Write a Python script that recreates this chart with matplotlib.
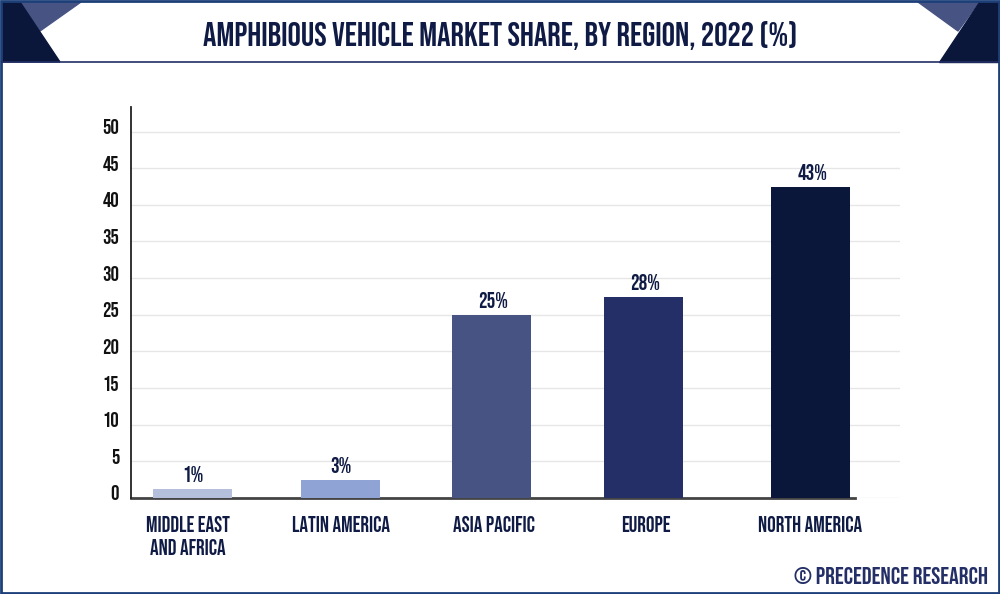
import matplotlib
matplotlib.use("Agg")
import matplotlib.pyplot as plt
from matplotlib.patches import Polygon, Rectangle
from matplotlib.transforms import ScaledTranslation

plt.rcParams["font.family"] = ["Bebas Neue", "Oswald", "Liberation Sans", "DejaVu Sans"]

title = "AMPHIBIOUS VEHICLE MARKET SHARE, BY REGION, 2022 (%)"
source = "© PRECEDENCE RESEARCH"

regions = ["MIDDLE EAST\nAND AFRICA", "LATIN AMERICA", "ASIA PACIFIC", "EUROPE", "NORTH AMERICA"]
shares = [1.2, 2.4, 25.0, 27.4, 42.4]
share_labels = ["1%", "3%", "25%", "28%", "43%"]
y_ticks = [0, 5, 10, 15, 20, 25, 30, 35, 40, 45, 50]

bar_colors = ["#b4bfdc", "#8fa3d4", "#475383", "#232f66", "#0a173b"]
navy = "#0f1b45"
frame = "#1c3f78"

W, H = 1000, 594
fig = plt.figure(figsize=(W / 100, H / 100), dpi=100, facecolor="white")

# chart area, in figure fractions from the pixel layout of the picture
left, right, top, bottom = 131, 900, 107, 498
ax = fig.add_axes([left / W, 1 - bottom / H, (right - left) / W, (bottom - top) / H])
ax.set_xlim(left, right)
ax.set_ylim(0, (bottom - top) / 7.33)

# the columns are not evenly spaced in the picture, and their texts sit a bit off centre
slots = [192, 340, 491, 643, 810]
value_slots = [193, 341, 493, 645, 813]
label_slots = [188, 341, 494, 646, 810]
ax.bar(slots, shares, width=79, color=bar_colors, zorder=3)
for x, v, lab in zip(value_slots, shares, share_labels):
    ax.text(x, v + 0.95, lab, ha="center", va="bottom", fontsize=15.5, color=navy)

ax.set_yticks(y_ticks)
ax.set_yticklabels(y_ticks, fontsize=15, color="#111111")
ax.set_xticks(label_slots)
ax.set_xticklabels(regions, fontsize=15.5, color=navy, linespacing=1.45)
ax.tick_params(axis="both", length=0)
ax.tick_params(axis="y", pad=8.5)
ax.tick_params(axis="x", pad=13)
ax.grid(axis="x", visible=False)
ax.grid(axis="y", color="#e6e6e6", linewidth=1, zorder=0)
ax.set_axisbelow(True)

# y labels stand a little above their gridlines
lift = ScaledTranslation(0, 5 / 100, fig.dpi_scale_trans)
for lab in ax.get_yticklabels():
    lab.set_transform(lab.get_transform() + lift)

for s in ["top", "right", "bottom"]:
    ax.spines[s].set_visible(False)
ax.spines["left"].set_color("#222222")
ax.spines["left"].set_linewidth(1.3)
ax.plot([left, 855], [0, 0], color="#444444", linewidth=2, clip_on=False, zorder=2)

# header band, corner triangles and outer frame in pixel coordinates
deco = fig.add_axes([0, 0, 1, 1], facecolor="none")
deco.set_xlim(0, W)
deco.set_ylim(H, 0)
deco.axis("off")
deco.add_patch(Polygon([(20, 2), (81, 2), (40, 31)], color="#475383"))
deco.add_patch(Polygon([(2, 2), (20, 2), (60, 62), (2, 62)], color="#0a173b"))
deco.add_patch(Polygon([(918, 2), (979, 2), (958, 31)], color="#475383"))
deco.add_patch(Polygon([(979, 2), (998, 2), (998, 62), (939, 62)], color="#0a173b"))
deco.plot([2, 998], [62, 62], color="#232f66", linewidth=1.2)
deco.add_patch(Rectangle((1, 1), W - 2, H - 2, fill=False, edgecolor=frame, linewidth=2))

deco.text(500, 35, title, ha="center", va="center", fontsize=24, color=navy)
deco.text(988, 576, source, ha="right", va="center", fontsize=17.5, color="#232f66")

fig.savefig("out.png", dpi=100)
